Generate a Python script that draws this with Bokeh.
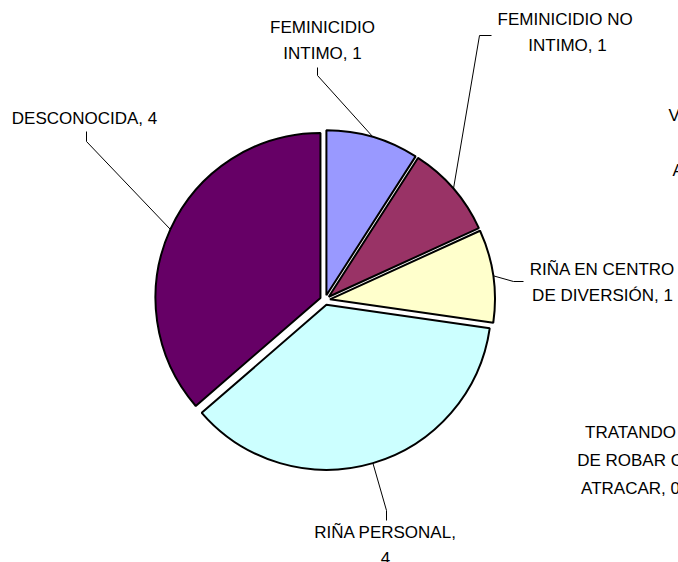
import math
from bokeh.plotting import figure
from bokeh.models import Range1d, ColumnDataSource
from bokeh.embed import file_html
from bokeh.resources import INLINE
from bokeh.core.properties import value

# ---- data ----
categories = ["FEMINICIDIO\nINTIMO", "FEMINICIDIO  NO\nINTIMO", "RIÑA EN CENTRO\nDE DIVERSIÓN",
              "RIÑA PERSONAL,\n", "DESCONOCIDA"]
counts = [1, 1, 1, 4, 4]
colors = ["#9999FF", "#993366", "#FFFFCC", "#CCFFFF", "#660066"]
zero_categories = ["TRATANDO\nDE ROBAR O\nATRACAR"]
zero_counts = [0]

# ---- layout (screen px) ----
W, H = 678, 562
def X(sx): return sx
def Y(sy): return H - sy

cx, cy = X(324.5), Y(299.5)
R = 165
EXPLODE = 5

p = figure(width=W, height=H, output_backend="svg", toolbar_location=None,
           x_range=Range1d(0, W), y_range=Range1d(0, H), min_border=0)
p.axis.visible = False
p.grid.visible = False
p.outline_line_color = None
p.background_fill_color = "white"
p.border_fill_color = "white"

total = sum(counts) + sum(zero_counts)
starts, ends, xs, ys, mids = [], [], [], [], []
acc = 0
for v in counts:
    a0 = math.pi / 2 - 2 * math.pi * acc / total
    a1 = a0 - 2 * math.pi * v / total
    m = (a0 + a1) / 2
    starts.append(a0); ends.append(a1); mids.append(m)
    xs.append(cx + EXPLODE * math.cos(m)); ys.append(cy + EXPLODE * math.sin(m))
    acc += v

src = ColumnDataSource(dict(x=xs, y=ys, s=starts, e=ends, c=colors))
p.wedge(x="x", y="y", radius=R, start_angle="s", end_angle="e", direction="clock",
        fill_color="c", line_color="black", line_width=2, source=src)

# label placement (screen px): label center, elbow, end of leader
label_pos = [(322, 40), (567, 32), (602, 282), (385, 545), (84, 118)]
elbows = [[(317, 75), (317, 67)], [(479, 35), (491, 35)], [(513, 281), (523, 281)],
          [(386, 510), (386, 520)], [(86, 141), (86, 131)]]

lx, ly = [], []
for i in range(len(counts)):
    sx = xs[i] + R * math.cos(mids[i])
    sy = ys[i] + R * math.sin(mids[i])
    lx.append([sx] + [X(a) for a, b in elbows[i]])
    ly.append([sy] + [Y(b) for a, b in elbows[i]])
p.multi_line(lx, ly, line_color="black", line_width=1)

texts = []
for name, v in zip(categories, counts):
    if name.endswith("\n"):
        texts.append(f"{name}{v}")
    else:
        texts.append(f"{name}, {v}")
p.text(x=[X(a) for a, b in label_pos], y=[Y(b) for a, b in label_pos], text=texts,
       text_font=value("Liberation Sans"), text_font_size="17px", text_color="black",
       text_align="center", text_baseline="middle", text_line_height=1.41)

# zero-valued categories (labels partly outside the chart area)
ztexts = [f"{n}, {v}" for n, v in zip(zero_categories, zero_counts)]
p.text(x=[X(630)], y=[Y(460)], text=ztexts,
       text_font=value("Liberation Sans"), text_font_size="17px", text_color="black",
       text_align="center", text_baseline="middle", text_line_height=1.45)
p.text(x=[X(668), X(672)], y=[Y(115), Y(170)], text=["VIOLENCIA", "AGRESIÓN, 0"],
       text_font=value("Liberation Sans"), text_font_size="17px", text_color="black",
       text_align="left", text_baseline="middle")

open("out.html", "w").write(file_html(p, INLINE))
